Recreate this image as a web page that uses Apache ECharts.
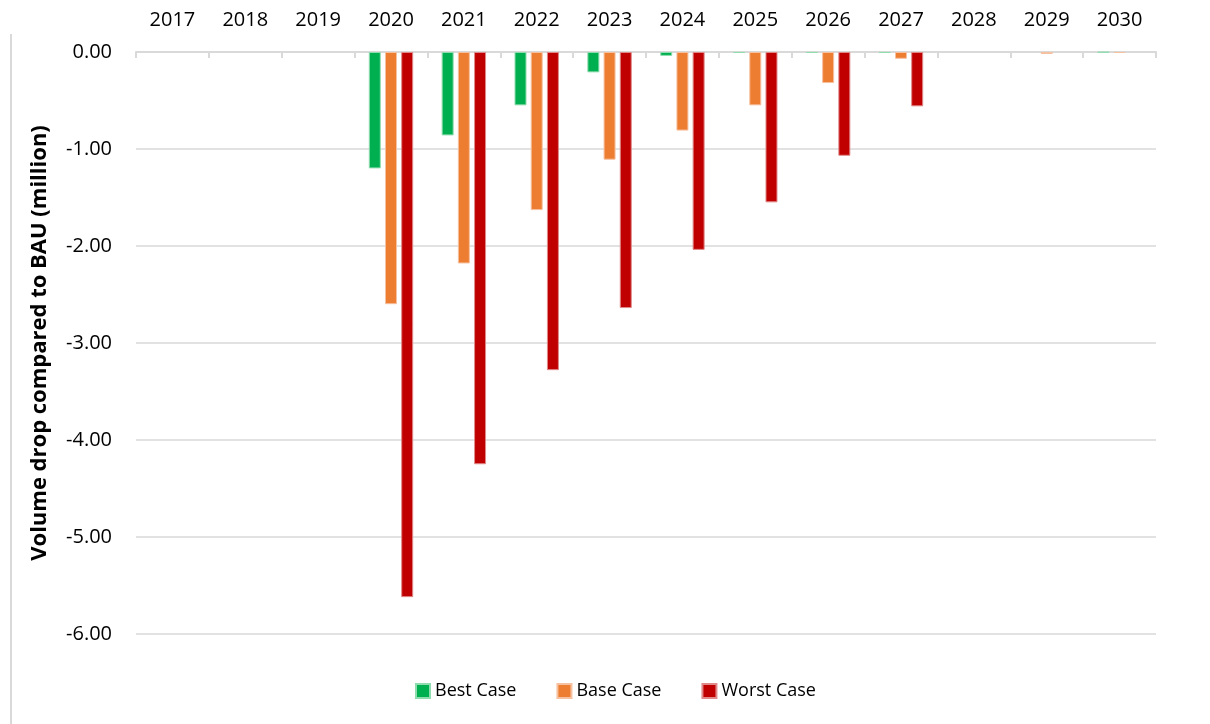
<!DOCTYPE html>
<html>
<head>
<meta charset="utf-8">
<script src="https://cdn.jsdelivr.net/npm/echarts@6/dist/echarts.min.js"></script>
<style>
html,body{margin:0;padding:0;background:#fff;}
#chart{width:1210px;height:724px;}
</style>
</head>
<body>
<div id="chart"></div>
<script>
const years = ['2017','2018','2019','2020','2021','2022','2023','2024','2025','2026','2027','2028','2029','2030'];
// null = no visible bar in the reference
const bestCase  = [null, null, null, -1.20, -0.86, -0.55, -0.21, -0.04, -0.01, -0.01, -0.01, null, null, -0.005];
const baseCase  = [null, null, null, -2.60, -2.18, -1.63, -1.11, -0.81, -0.55, -0.32, -0.07, null, -0.02, -0.01];
const worstCase = [null, null, null, -5.62, -4.25, -3.28, -2.64, -2.04, -1.55, -1.07, -0.56, null, null, null];
const yTicks = { min: -6, max: 0, interval: 1 };

const font = '"Open Sans", "Liberation Sans", sans-serif';
const chart = echarts.init(document.getElementById('chart'));
const barStyle = (c, b) => ({ color: c, borderColor: b, borderWidth: 1 });
chart.setOption({
  animation: false,
  textStyle: { fontFamily: font },
  graphic: [{
    type: 'line', shape: { x1: 11, y1: 34, x2: 11, y2: 724 },
    style: { stroke: '#d9d9d9', lineWidth: 2 }
  }],
  grid: { left: 136, right: 54, top: 52, bottom: 90 },
  legend: {
    left: 410, top: 677,
    itemWidth: 14, itemHeight: 14, itemGap: 40,
    icon: 'rect',
    textStyle: { fontSize: 18, color: '#000', fontFamily: font },
    data: ['Best Case', 'Base Case', 'Worst Case']
  },
  xAxis: {
    type: 'category', position: 'top', data: years,
    axisLine: { lineStyle: { color: '#d9d9d9', width: 2 } },
    axisTick: { show: true, inside: true, length: 6, lineStyle: { color: '#d9d9d9', width: 2 } },
    axisLabel: { fontSize: 20, color: '#000', margin: 22, fontFamily: font }
  },
  yAxis: {
    type: 'value', min: yTicks.min, max: yTicks.max, interval: yTicks.interval,
    name: 'Volume drop compared to BAU (million)',
    nameLocation: 'middle', nameGap: 85, nameRotate: 90,
    nameTextStyle: { fontSize: 22, fontWeight: 'bold', color: '#000', fontFamily: font },
    axisLine: { show: false }, axisTick: { show: false },
    axisLabel: { fontSize: 20, color: '#000', margin: 24, formatter: v => v.toFixed(2), fontFamily: font },
    splitLine: { lineStyle: { color: '#d9d9d9', width: 1.5 } }
  },
  series: [
    { name: 'Best Case', type: 'bar', data: bestCase, barWidth: 12, barGap: '35%',
      itemStyle: barStyle('#00b050', '#8fdcae') },
    { name: 'Base Case', type: 'bar', data: baseCase, barWidth: 12, barGap: '35%',
      itemStyle: barStyle('#ed7d31', '#f6c1a0') },
    { name: 'Worst Case', type: 'bar', data: worstCase, barWidth: 12, barGap: '35%',
      itemStyle: barStyle('#c00000', '#e08a8a') }
  ]
});
</script>
</body>
</html>
